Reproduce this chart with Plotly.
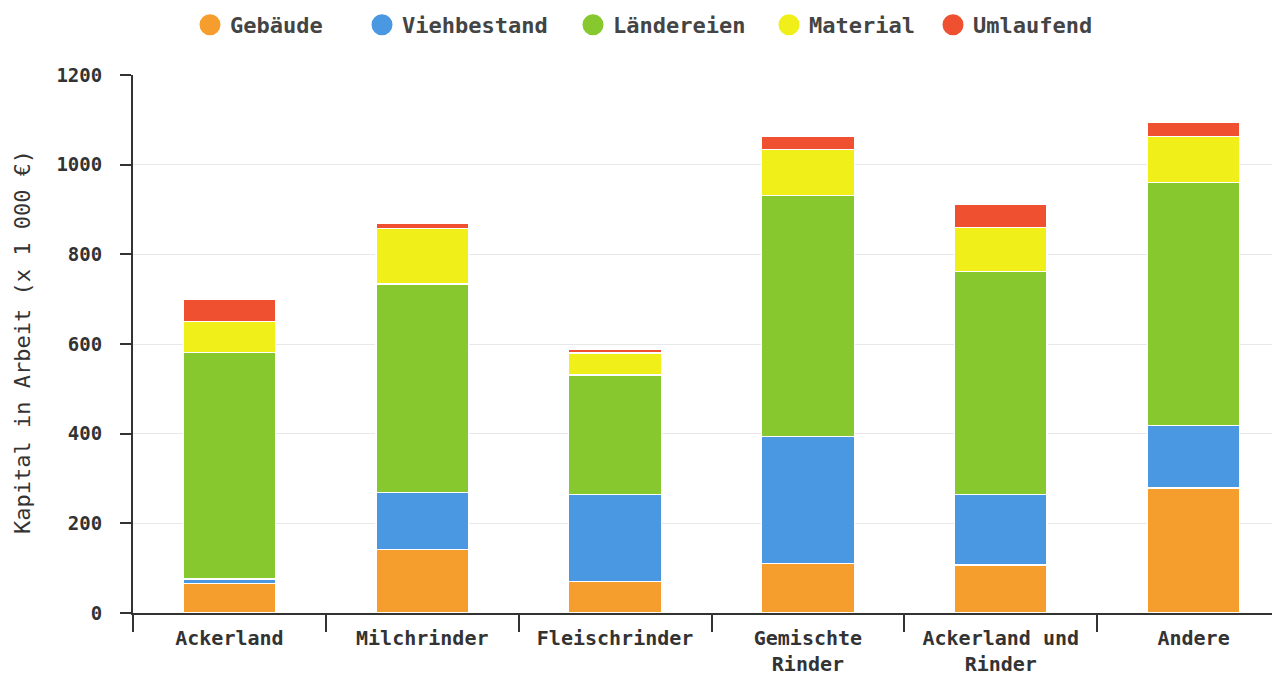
import plotly.graph_objects as go

categories = ["Ackerland", "Milchrinder", "Fleischrinder", "Gemischte<br>Rinder",
              "Ackerland und<br>Rinder", "Andere"]
series_names = ["Gebäude", "Viehbestand", "Ländereien", "Material", "Umlaufend"]
gebaeude = [66, 141, 71, 111, 107, 279]
viehbestand = [10, 127, 194, 282, 158, 140]
laendereien = [505, 466, 266, 539, 496, 541]
material = [70, 123, 49, 102, 98, 102]
umlaufend = [48, 13, 7, 28, 52, 32]
colors = ["#F59E2E", "#4A98E1", "#87C82E", "#F0EF1A", "#EF5030"]
y_title = "Kapital in Arbeit (x 1 000 €)"

values = [gebaeude, viehbestand, laendereien, material, umlaufend]

# legend entry centres of the circle markers (page pixels)
legend_centres = [210, 382, 593, 789, 953]

FIG_W, FIG_H = 1282, 675
PAGE_OFF = 8
ML, MR, MT, MB = 125, 0, 67, 70
PW = FIG_W - ML - MR
PH = FIG_H - MT - MB

fig = go.Figure()
for name, vals, col in zip(series_names, values, colors):
    fig.add_trace(go.Bar(
        x=categories, y=vals, name=name, marker_color=col,
        marker_line_color="white", marker_line_width=1.2,
        showlegend=False,
    ))

font_family = "DejaVu Sans Mono"
legend_ids = ["legend", "legend2", "legend3", "legend4", "legend5"]
legend_layouts = {}
for i, (name, col, cx) in enumerate(zip(series_names, colors, legend_centres)):
    fig.add_trace(go.Scatter(
        x=[None], y=[None], mode="markers", name=name, legend=legend_ids[i],
        marker=dict(symbol="circle", size=16, color=col,
                    line=dict(color=col, width=6)),
    ))
    legend_layouts[legend_ids[i]] = dict(
        orientation="h", xref="container", x=(cx - 20 - PAGE_OFF) / FIG_W,
        xanchor="left", y=1.093, yanchor="middle",
        font=dict(size=22, color="#444444", family=font_family, weight="bold"),
        itemsizing="trace", itemwidth=30, bgcolor="rgba(0,0,0,0)",
    )

fig.update_layout(
    barmode="stack",
    bargap=0.52,
    width=FIG_W, height=FIG_H,
    margin=dict(l=ML, r=MR, t=MT, b=MB, autoexpand=False),
    plot_bgcolor="white",
    paper_bgcolor="white",
    font=dict(family=font_family, color="#333333"),
    **legend_layouts,
)
fig.add_annotation(
    text=y_title, xref="paper", yref="paper",
    x=(22 - PAGE_OFF - ML) / PW, y=1 - (342 - PAGE_OFF - MT) / PH,
    xanchor="center", yanchor="middle", textangle=-90, showarrow=False,
    font=dict(size=22, family=font_family, color="#333333"),
)
fig.update_yaxes(
    range=[0, 1200], tickvals=[0, 200, 400, 600, 800, 1000, 1200],
    showgrid=True, gridcolor="#E8E8E8", gridwidth=1,
    showline=True, linecolor="#333333", linewidth=2,
    ticks="outside", ticklen=11, tickwidth=2, tickcolor="#333333",
    ticklabelstandoff=14,
    tickfont=dict(size=19, family=font_family, color="#333333", weight="bold"),
    zeroline=False, automargin=False,
)
fig.update_xaxes(
    showline=True, linecolor="#333333", linewidth=2,
    ticks="outside", ticklen=17, tickwidth=2, tickcolor="#333333",
    tickson="boundaries", ticklabelstandoff=6,
    tickfont=dict(size=20, family=font_family, color="#333333", weight="bold"),
    showgrid=False, automargin=False,
)

fig.write_html("out.html")
